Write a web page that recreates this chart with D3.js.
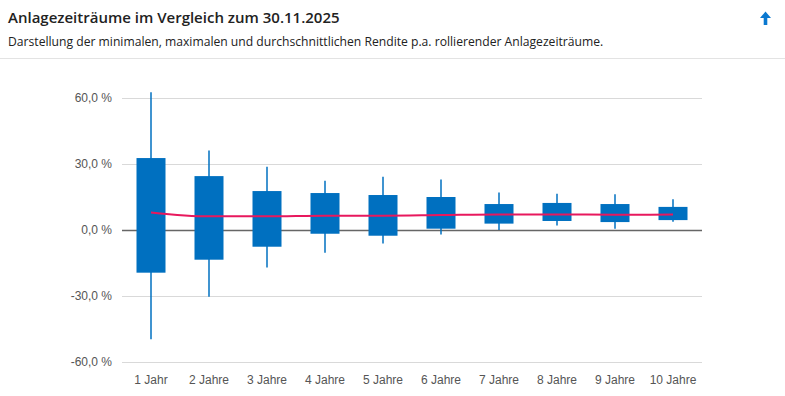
<!DOCTYPE html>
<html>
<head>
<meta charset="utf-8">
<script src="https://cdn.jsdelivr.net/npm/d3@7"></script>
<style>
  body { margin: 0; background: #fff; font-family: "Segoe UI", "Open Sans", sans-serif; }
  .axis text { fill: #555; font-size: 12px; }
</style>
</head>
<body>
<div id="chart"></div>
<script>
//DATA
let categories = ["1 Jahr", "2 Jahre", "3 Jahre", "4 Jahre", "5 Jahre", "6 Jahre", "7 Jahre", "8 Jahre", "9 Jahre", "10 Jahre"];
let maxValues = [62.6, 36.1, 28.8, 22.4, 24.2, 22.9, 17.1, 16.5, 16.2, 14.0];
let boxTop = [32.7, 24.5, 17.7, 16.8, 15.9, 15.0, 11.8, 12.3, 11.8, 10.5];
let boxBottom = [-19.4, -13.5, -7.6, -1.7, -2.6, 0.6, 2.9, 4.1, 3.6, 4.5];
let minValues = [-49.7, -30.3, -17.1, -10.3, -6.1, -2.0, 0.0, 2.0, 0.6, 3.8];
let meanValues = [8.0, 6.2, 6.2, 6.5, 6.5, 6.8, 7.1, 7.1, 6.9, 7.0];
let yTicks = [-60, -30, 0, 30, 60];

//GENERAL VARIABLE INITIALIZATION
let w = 785;
let h = 396;
let plotLeft = 122;
let plotRight = 702;
let plotTop = 98;
let plotBottom = 362;
let blue = "#0070c0";
let pink = "#e8185d";

let rows = categories.map(function(c, i) {
  return { cat: c, max: maxValues[i], top: boxTop[i], bottom: boxBottom[i], min: minValues[i], mean: meanValues[i] };
});

let svg = d3.select("#chart").append("svg")
    .attr("width", w)
    .attr("height", h);

//HEADER
svg.append("text")
    .attr("x", 8)
    .attr("y", 23)
    .attr("font-size", 15)
    .attr("font-weight", 600)
    .attr("fill", "#222")
    .text("Anlagezeiträume im Vergleich zum 30.11.2025");

svg.append("text")
    .attr("x", 8)
    .attr("y", 46)
    .attr("font-size", 12.15)
    .attr("fill", "#222")
    .text("Darstellung der minimalen, maximalen und durchschnittlichen Rendite p.a. rollierender Anlagezeiträume.");

svg.append("line")
    .attr("x1", 0).attr("x2", w)
    .attr("y1", 58.5).attr("y2", 58.5)
    .attr("stroke", "#e3e3e3");

// arrow icon
svg.append("path")
    .attr("transform", "translate(765.5,18)")
    .attr("d", "M0,-6.5 L5.5,0 L1.8,0 L1.8,7 L-1.8,7 L-1.8,0 L-5.5,0 Z")
    .attr("fill", "#0a78d0");

//SCALES
let xScale = d3.scaleBand()
    .domain(categories)
    .range([plotLeft, plotRight])
    .paddingInner(0.5)
    .paddingOuter(0.25);

let yScale = d3.scaleLinear()
    .domain([-60, 60])
    .range([plotBottom, plotTop]);

//GRID
svg.append("g")
    .selectAll("line")
    .data(yTicks)
    .enter()
    .append("line")
    .attr("x1", plotLeft)
    .attr("x2", plotRight)
    .attr("y1", function(d) { return Math.round(yScale(d)) + 0.5; })
    .attr("y2", function(d) { return Math.round(yScale(d)) + 0.5; })
    .attr("stroke", function(d) { return d === 0 ? "#666" : "#d9d9d9"; })
    .attr("stroke-width", function(d) { return d === 0 ? 1.3 : 1; });

//AXES
let fmt = function(d) { return d3.format(".1f")(d).replace(".", ",").replace("−", "-") + " %"; };

let yAxis = d3.axisLeft(yScale)
    .tickValues(yTicks)
    .tickFormat(fmt)
    .tickSize(0)
    .tickPadding(10);

svg.append("g")
    .attr("class", "axis")
    .attr("transform", "translate(" + plotLeft + ",0)")
    .call(yAxis)
    .call(function(g) { g.select(".domain").remove(); });

let xAxis = d3.axisBottom(xScale)
    .tickSize(0)
    .tickPadding(13);

svg.append("g")
    .attr("class", "axis")
    .attr("transform", "translate(0," + plotBottom + ")")
    .call(xAxis)
    .call(function(g) { g.select(".domain").remove(); });

//CANDLES
let candles = svg.append("g")
    .selectAll("g")
    .data(rows)
    .enter()
    .append("g");

candles.append("line")
    .attr("x1", function(d) { return xScale(d.cat) + xScale.bandwidth() / 2; })
    .attr("x2", function(d) { return xScale(d.cat) + xScale.bandwidth() / 2; })
    .attr("y1", function(d) { return yScale(d.max); })
    .attr("y2", function(d) { return yScale(d.min); })
    .attr("stroke", blue)
    .attr("stroke-width", 1.5);

candles.append("rect")
    .attr("x", function(d) { return xScale(d.cat); })
    .attr("width", xScale.bandwidth())
    .attr("y", function(d) { return yScale(d.top); })
    .attr("height", function(d) { return yScale(d.bottom) - yScale(d.top); })
    .attr("fill", blue);

//MEAN LINE
let line = d3.line()
    .x(function(d) { return xScale(d.cat) + xScale.bandwidth() / 2; })
    .y(function(d) { return yScale(d.mean); })
    .curve(d3.curveMonotoneX);

svg.append("path")
    .datum(rows)
    .attr("d", line)
    .attr("fill", "none")
    .attr("stroke", pink)
    .attr("stroke-width", 2);
</script>
</body>
</html>
